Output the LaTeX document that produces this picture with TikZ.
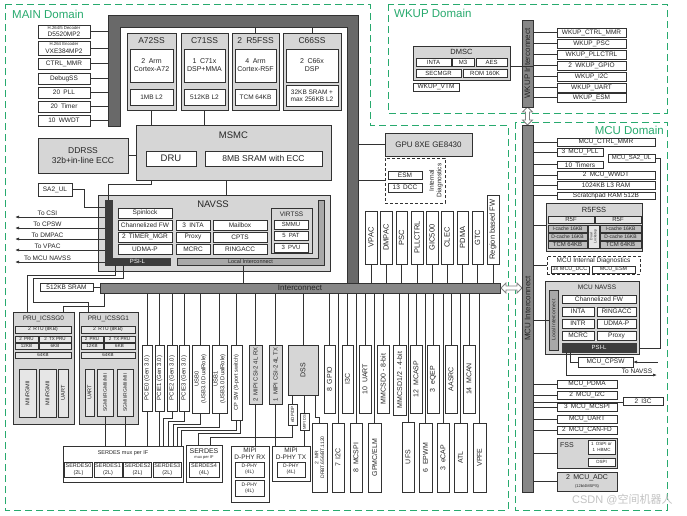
\documentclass[tikz,border=0pt]{standalone}
\usepackage{fontspec}
\setmainfont{Liberation Sans}
\newfontfamily\cjkfont{Noto Sans CJK SC}
\usetikzlibrary{arrows.meta}
\newcommand\fs[1]{\fontsize{#1}{\fpeval{#1*1.15}}\selectfont}
\definecolor{grn}{RGB}{40,170,110}
\definecolor{bd}{RGB}{50,50,50}
\definecolor{lg}{RGB}{214,214,214}
\definecolor{lg2}{RGB}{230,230,230}
\definecolor{fr}{RGB}{105,105,105}
\definecolor{icg}{RGB}{135,135,135}
\definecolor{psig}{RGB}{60,60,60}
\definecolor{licg}{RGB}{168,168,168}
\definecolor{cach}{RGB}{190,190,190}
\definecolor{wm}{RGB}{195,195,195}
\tikzset{
 bx/.style={draw=bd, fill=white, line width=0.7pt, inner sep=0pt, outer sep=0pt, align=center, font=\fs{6.5}, text=black!85},
 gbx/.style={bx, fill=lg},
 lbx/.style={bx, fill=lg2},
 cbx/.style={bx, fill=cach},
 ibar/.style={bx, fill=icg},
 dbox/.style={bx, fill=none, dash pattern=on 3pt off 2pt, line width=0.8pt},
 ln/.style={draw=bd, line width=0.7pt},
 dom/.style={draw=grn, line width=0.9pt, dash pattern=on 7pt off 4pt},
 dlab/.style={text=grn, font=\fs{11.5}, inner sep=0pt, anchor=west},
 ttl/.style={inner sep=0pt, font=\fs{8.5}, text=black!85, align=center},
 harr/.style={fill=white, draw=gray, line width=0.8pt},
 arrowend/.style={-{Latex[length=4pt,width=3pt]}},
 arrowstart/.style={{Latex[length=4pt,width=3pt]}-},
}
\newcommand\B[7][]{\node[bx,minimum width={(#5)-(#3)},minimum height={(#6)-(#4)},#1] (#2) at ({((#3)+(#5))/2},{((#4)+(#6))/2}) {#7};}
\newcommand\V[7][]{\node[bx,rotate=90,minimum width={(#6)-(#4)},minimum height={(#5)-(#3)},#1] (#2) at ({((#3)+(#5))/2},{((#4)+(#6))/2}) {#7};}
\begin{document}
\begin{tikzpicture}[x=1pt,y=-1pt]
\useasboundingbox (0,0) rectangle (687,515);
\fill[white] (0,0) rectangle (687,515);
% ---------------- domains
\draw[dom] (5,4) -- (370,4) -- (370,125) -- (508,125) -- (508,510) -- (5,510) -- cycle;
\draw[dom] (388,4) rectangle (667,113);
\draw[dom] (515,122) rectangle (667,510);
\node[dlab] (lmain) at (12,14) {MAIN Domain};
\node[dlab] (lwkup) at (394,13) {WKUP Domain};
\node[dlab,anchor=east] (lmcu) at (664,130) {MCU Domain};
% ---------------- main frame
\filldraw[fill=fr, draw=bd, line width=0.7pt] (108,15) -- (358,15) -- (358,283) -- (347,283) -- (347,27) -- (120,27) -- (120,126) -- (108,126) -- cycle;
\coordinate (lband) at (108,0);
\coordinate (rband) at (358,0);
\coordinate (tband) at (0,27);
% left column
\B{h265}{38}{25}{90}{38}{\fs{4.3}H.264/5 Decoder\\D5520MP2}
\B{h264}{38}{41}{90}{55}{\fs{4.3}H.264 Encoder\\VXE384MP2}
\B{ctrl}{38}{58}{90}{69}{CTRL\_MMR}
\B{dbg}{38}{73}{90}{84}{DebugSS}
\B{pll}{38}{87}{90}{98}{20\enspace PLL}
\B{tmr}{38}{101}{90}{112}{20\enspace Timer}
\B{wwdt}{38}{115}{90}{126}{10\enspace WWDT}
\foreach \n in {h265,h264,ctrl,dbg,pll,tmr,wwdt} \draw[ln] (\n.east) -- (\n.east -| lband);
% subsystems
\B[gbx]{a72}{127}{33}{176}{110}{}
\node[ttl] (a72t) at (151.5,41) {A72SS};
\B[font=\fs{7}]{a72c}{130}{49}{173}{82}{2\enspace Arm\\Cortex-A72}
\B{a72l}{130}{89}{173}{105}{1MB L2}
\B[gbx]{c71}{181}{33}{228}{110}{}
\node[ttl] (c71t) at (204.5,41) {C71SS};
\B[font=\fs{7}]{c71c}{184}{49}{225}{82}{1\enspace C71x\\DSP+MMA}
\B{c71l}{184}{89}{225}{105}{512KB L2}
\B[gbx]{r5}{232}{33}{279}{110}{}
\node[ttl] (r5t) at (255.5,41) {2\enspace R5FSS};
\B[font=\fs{7}]{r5c}{235}{49}{276}{82}{4\enspace Arm\\Cortex-R5F}
\B{r5l}{235}{89}{276}{105}{TCM 64KB}
\B[gbx]{c66}{283}{33}{341}{110}{}
\node[ttl] (c66t) at (312,41) {C66SS};
\B[font=\fs{7}]{c66c}{286}{49}{338}{82}{2\enspace C66x\\DSP}
\B{c66l}{286}{85}{338}{106}{32KB SRAM +\\max 256KB L2}
\draw[ln] (r5.north) -- (r5.north |- tband);
\draw[ln] (c66.north) -- (c66.north |- tband);
% MSMC
\B[gbx]{msmc}{136}{125}{331}{180}{}
\node[ttl,font=\fs{9.5}] (msmct) at (233.5,135) {MSMC};
\B[font=\fs{9.5}]{dru}{146}{151}{196}{166}{DRU}
\B[font=\fs{8.5}]{sram8}{205}{151}{322}{166}{8MB SRAM with ECC}
\draw[ln] (a72.south) -- (a72.south |- msmc.north);
\draw[ln] (c71.south) -- (c71.south |- msmc.north);
\B[gbx,font=\fs{8.5}]{ddr}{38}{138}{128}{173}{DDRSS\\32b+in-line ECC}
\draw[ln] (ddr.east) -- (ddr.east -| msmc.west);
% GPU and diagnostics
\B[gbx,font=\fs{8}]{gpu}{385}{133}{472}{156}{GPU 8XE GE8430}
\B[dbox]{idiag}{385}{158}{445}{203}{}
\B{esm}{388}{171}{422}{179}{ESM}
\B{dcc}{388}{183}{422}{192}{13\enspace DCC}
\node[ttl,font=\fs{6.5},rotate=90] (idt) at (436,180.5) {Internal\\Diagnostics};
\draw[ln] (gpu.west) -- (gpu.west -| rband);
\draw[ln] (idiag.west) -- (idiag.west -| rband);
% NAVSS
\B[gbx]{navss}{98}{195}{330}{271}{}
\node[ttl,font=\fs{9.5}] (navt) at (213,204) {NAVSS};
\filldraw[fill=psig, draw=psig] (105,200) -- (112,200) -- (112,258) -- (170,258) -- (170,265) -- (105,265) -- cycle;
\B[draw=none,fill=none]{psiv}{105}{200}{112}{265}{}
\B[draw=none,fill=none,text=white,font=\fs{6}]{psil}{105}{258}{170}{265}{PSI-L}
\filldraw[fill=licg, draw=bd, line width=0.7pt] (177,258) -- (318,258) -- (318,200) -- (324,200) -- (324,265) -- (177,265) -- cycle;
\B[draw=none,fill=none,font=\fs{5.5}]{lic}{177}{258}{324}{265}{Local Interconnect}
\B{spin}{118}{208}{172}{218}{Spinlock}
\B{chfw}{118}{220}{172}{230}{Channelized FW}
\B{tmgr}{118}{232}{172}{242}{2\enspace TIMER\_MGR}
\B{udma}{118}{244}{172}{254}{UDMA-P}
\B{inta}{176}{220}{210}{230}{3\enspace INTA}
\B{proxy}{176}{232}{210}{242}{Proxy}
\B{mcrc}{176}{244}{210}{254}{MCRC}
\B{mbox}{213}{220}{267}{230}{Mailbox}
\B{cpts}{213}{232}{267}{242}{CPTS}
\B{ring}{213}{244}{267}{254}{RINGACC}
\B[gbx]{virt}{271}{208}{312}{253}{}
\node[ttl,font=\fs{6.5}] (virtt) at (291.5,214) {VIRTSS};
\B[font=\fs{6}]{smmu}{274}{220}{308}{229}{SMMU}
\B[font=\fs{6}]{pat}{274}{231}{308}{240}{5\enspace PAT}
\B[font=\fs{6}]{pvu}{274}{243}{308}{252}{3\enspace PVU}
\B{sa2}{38}{183}{72}{196}{SA2\_UL}
\coordinate (sa2k) at (84,207);
\draw[ln] (sa2.east) -| (sa2k) -- (sa2k -| psiv.west);
\draw[ln] (a72.south |- msmc.south) -- ++(0,4) -| (psiv.north);
\draw[ln] ([xshift=-7.5pt]msmc.south) -- ([xshift=-7.5pt]msmc.south |- navss.north);
\foreach \nm/\yy/\tx in {csi/217/To CSI, cpsw/228/To CPSW, dmpac/239/To DMPAC, vpac/250/To VPAC, mnav/262/To MCU NAVSS} {
 \coordinate (to\nm) at (15,\yy);
 \draw[ln,arrowend] (psiv.west |- to\nm) -- (to\nm);
 \node[ttl,font=\fs{6.5},anchor=south] (lt\nm) at (47.5,\yy-1.2) {\tx};
}
% interconnect
\B[ibar,font=\fs{8}]{ic}{100}{283}{500}{293}{Interconnect}
\B{sram}{40}{283}{93}{291}{512KB SRAM}
\draw[ln] (sram.east) -- (sram.east -| ic.west);
\draw[ln] ([xshift=-7pt]lic.south) -- ([xshift=-7pt]lic.south |- ic.north);
% region column
\V[font=\fs{7.5}]{vpac}{365}{211}{377}{264}{VPAC}
\V[font=\fs{7.5}]{dmpac}{380}{211}{392}{264}{DMPAC}
\V[font=\fs{7.5}]{psc}{396}{211}{407}{264}{PSC}
\V[font=\fs{7.5}]{pllc}{411}{211}{423}{264}{PLLCTRL}
\V[font=\fs{7.5}]{gic}{426}{211}{438}{264}{GIC500}
\V[font=\fs{7.5}]{clec}{441}{211}{453}{264}{CLEC}
\V[font=\fs{7.5}]{pdma}{457}{211}{468}{264}{PDMA}
\V[font=\fs{7.5}]{gtc}{472}{211}{483}{264}{GTC}
\V[font=\fs{7.5}]{rfw}{487}{195}{499}{264}{Region based FW}
\foreach \n in {vpac,dmpac,psc,pllc,gic,clec,pdma,gtc,rfw} \draw[ln] (\n) -- (\n |- ic.north);
% PRU
\B[gbx]{pru0}{13}{312}{74}{424}{}
\node[ttl,font=\fs{6.5}] (pru0t) at (43.5,319) {PRU\_ICSSG0};
\B[lbx,font=\fs{5}]{rtu0}{15}{326}{71}{333}{2\enspace RTU (8KB)}
\B[lbx,font=\fs{4.5}]{pp0}{15}{336}{38}{342}{2\enspace PRU}
\B[lbx,font=\fs{4.5}]{tp0}{39}{336}{71}{342}{2\enspace TX PRU}
\B[lbx,font=\fs{4.5}]{ka0}{15}{343}{38}{349}{12KB}
\B[lbx,font=\fs{4.5}]{kb0}{39}{343}{71}{349}{6KB}
\B[lbx,font=\fs{4.5}]{kc0}{15}{352}{71}{358}{64KB}
\V[lbx,font=\fs{5.5}]{mii0a}{19}{369}{36}{417}{MII/RGMII}
\V[lbx,font=\fs{5.5}]{mii0b}{39}{369}{56}{417}{MII/RGMII}
\V[lbx,font=\fs{5.5}]{uart0}{58}{369}{68}{417}{UART}
\B[gbx]{pru1}{79}{312}{138}{424}{}
\node[ttl,font=\fs{6.5}] (pru1t) at (108.5,319) {PRU\_ICSSG1};
\B[lbx,font=\fs{5}]{rtu1}{81}{326}{135}{333}{2\enspace RTU (8KB)}
\B[lbx,font=\fs{4.5}]{pp1}{81}{336}{103}{342}{2\enspace PRU}
\B[lbx,font=\fs{4.5}]{tp1}{104}{336}{135}{342}{2\enspace TX PRU}
\B[lbx,font=\fs{4.5}]{ka1}{81}{343}{103}{349}{12KB}
\B[lbx,font=\fs{4.5}]{kb1}{104}{343}{135}{349}{6KB}
\B[lbx,font=\fs{4.5}]{kc1}{81}{352}{135}{358}{64KB}
\V[lbx,font=\fs{5.5}]{uart1}{85}{369}{94}{416}{UART}
\V[lbx,font=\fs{5}]{sg1}{97}{369}{113}{416}{SGMII/RGMII/MII}
\V[lbx,font=\fs{5}]{sg2}{117}{369}{133}{416}{SGMII/RGMII/MII}
\coordinate (elb2) at (33,302);
\draw[ln] ([xshift=-22.5pt]psil.south) -- ++(0,10) -| ([xshift=-16.5pt]pru0.north);
\draw[ln] ([xshift=-14.5pt]psil.south) -- ++(0,13) -| (elb2) -| ([xshift=-20.5pt]pru1.north);
\draw[ln] ([xshift=-196pt]ic.south) -- ++(0,13) -| ([xshift=19.5pt]pru0.north);
% bottom row
\V[font=\fs{6}]{pcie0}{142}{345}{152}{411}{PCIE0 (Gen 3.0)}
\V[font=\fs{6}]{pcie1}{155}{345}{164}{411}{PCIE1 (Gen 3.0)}
\V[font=\fs{6}]{pcie2}{167}{345}{177}{411}{PCIE2 (Gen 3.0)}
\V[font=\fs{6}]{pcie3}{179}{345}{189}{411}{PCIE3 (Gen 3.0)}
\V[font=\fs{5.8}]{usb0}{192}{345}{209}{413}{USB0\\(USB3.0 DualRole)}
\V[font=\fs{5.8}]{usb1}{212}{345}{227}{413}{USB1\\(USB3.0 DualRole)}
\V[font=\fs{5.6}]{cpsw}{231}{345}{242}{420}{CP SW (9-port switch)}
\V[gbx,font=\fs{6}]{csirx}{249}{345}{262}{404}{2\enspace MIPI CSI-2 4L RX}
\V[gbx,font=\fs{6}]{csitx}{269}{345}{282}{404}{1\enspace MIPI CSI-2 4L TX}
\V[gbx,font=\fs{7}]{dss}{288}{345}{318}{395}{DSS}
\V[font=\fs{4.5}]{edp}{288}{404}{297}{425}{eDP/DP}
\V[font=\fs{4}]{dsi}{300}{413}{309}{430}{MIPI DSI}
\V[font=\fs{5}]{mr}{312}{423}{327}{492}{2\enspace MR\\DRBT.656/BT.1120}
\V[font=\fs{7}]{gpio}{324}{345}{335}{413}{8\enspace GPIO}
\V[font=\fs{7}]{i3c}{342}{345}{353}{413}{I3C}
\V[font=\fs{7}]{uart}{359}{345}{371}{413}{10\enspace UART}
\V[font=\fs{7}]{mmc0}{377}{345}{389}{413}{MMCSD0 - 8-bit}
\V[font=\fs{7}]{mmc1}{393}{345}{406}{415}{MMCSD1/2 - 4-bit}
\V[font=\fs{7}]{mcasp}{410}{345}{422}{413}{12\enspace MCASP}
\V[font=\fs{7}]{eqep}{427}{345}{439}{413}{3\enspace eQEP}
\V[font=\fs{7}]{aasrc}{445}{345}{457}{413}{AASRC}
\V[font=\fs{7}]{mcan}{463}{345}{475}{413}{14\enspace MCAN}
\V[font=\fs{7}]{i2c}{332}{423}{344}{492}{7\enspace I2C}
\V[font=\fs{7}]{mcspi}{350}{423}{362}{492}{8\enspace MCSPI}
\V[font=\fs{7}]{gpmc}{368}{423}{381}{492}{GPMC/ELM}
\V[font=\fs{7}]{ufs}{402}{422}{414}{492}{UFS}
\V[font=\fs{7}]{epwm}{419}{423}{432}{492}{6\enspace EPWM}
\V[font=\fs{7}]{ecap}{437}{423}{449}{492}{3\enspace eCAP}
\V[font=\fs{7}]{atl}{454}{423}{467}{492}{ATL}
\V[font=\fs{7}]{vpfe}{473}{423}{486}{492}{VPFE}
\foreach \n in {pcie0,pcie1,pcie2,pcie3,usb0,usb1,cpsw,csirx,csitx,dss,gpio,i3c,uart,mmc0,mmc1,mcasp,eqep,aasrc,mcan,i2c,mcspi,gpmc,ufs,epwm,ecap,atl,vpfe} \draw[ln] (\n) -- (\n |- ic.south);
% SERDES
\B{serdes}{63}{446}{183}{482}{}
\node[ttl,font=\fs{5.5}] (sert) at (123,453.5) {SERDES mux per IF};
\B[font=\fs{5.5}]{s0}{64.5}{462}{92.5}{477}{SERDES0\\(2L)}
\B[font=\fs{5.5}]{s1}{94}{462}{122}{477}{SERDES1\\(2L)}
\B[font=\fs{5.5}]{s2}{123.5}{462}{151.5}{477}{SERDES2\\(2L)}
\B[font=\fs{5.5}]{s3}{153}{462}{181.5}{477}{SERDES3\\(2L)}
\B{serdes4}{186}{445}{222}{482}{}
\node[ttl,font=\fs{7}] (ser4t) at (204,451) {SERDES};
\node[ttl,font=\fs{4}] (ser4m) at (204,457.5) {mux per IF};
\B[font=\fs{5.5}]{s4}{189}{462}{219}{477}{SERDES4\\(4L)}
\draw[ln] (pcie0) -- (pcie0 |- serdes.north);
\draw[ln] (pcie1) -- (pcie1 |- serdes.north);
\draw[ln] (pcie2.west) -- ++(0,7) -| ([xshift=40pt]serdes.north);
\draw[ln] (pcie3.west) -- ++(0,10) -| ([xshift=45pt]serdes.north);
\draw[ln] (usb0.west) -- ++(0,11) -| ([xshift=50pt]serdes.north);
\draw[ln] (usb1.west) -- ++(0,14) -| ([xshift=54pt]serdes.north);
\draw[ln] (cpsw.west) -- ++(0,10) -| ([xshift=58pt]serdes.north);
\draw[ln] ([xshift=3.5pt]cpsw.west) -- ++(0,13) -| ([xshift=-6pt]serdes4.north);
\draw[ln] (edp.west) -- ++(0,12) -| ([xshift=6pt]serdes4.north);
\draw[ln] (sg1) -- (sg1 |- serdes.north);
\draw[ln] (sg2) -- (sg2 |- serdes.north);
% MIPI D-PHY
\B{dphyrx}{231}{446}{269}{502}{}
\node[ttl,font=\fs{6.5}] (drxt) at (250,454) {MIPI\\D-PHY RX};
\B[font=\fs{5}]{drx1}{235}{462}{264}{477}{D-PHY\\(4L)}
\B[font=\fs{5}]{drx2}{235}{480}{264}{496}{D-PHY\\(4L)}
\B{dphytx}{272}{446}{310}{481}{}
\node[ttl,font=\fs{6.5}] (dtxt) at (291,454) {MIPI\\D-PHY TX};
\B[font=\fs{5}]{dtx1}{277}{462}{305}{477}{D-PHY\\(4L)}
\draw[ln] (csirx) -- (csirx |- dphyrx.north);
\draw[ln] (csitx) -- (csitx |- dphytx.north);
\draw[ln] (dsi) -- (dsi |- dphytx.north);
\draw[ln] ([xshift=-10.5pt]dss.west) -- (edp.east);
\draw[ln] ([xshift=1.5pt]dss.west) -- (dsi.east);
\draw[ln] ([xshift=12pt]dss.west) -- ++(0,22) -| (mr.east);
% double arrows
\filldraw[harr] (501,288) -- (506,283) -- (506,286) -- (517,286) -- (517,283) -- (522,288) -- (517,293) -- (517,290) -- (506,290) -- (506,293) -- cycle;
\filldraw[harr] (527.5,107) -- (522.5,112) -- (525.5,112) -- (525.5,120) -- (522.5,120) -- (527.5,125) -- (532.5,120) -- (529.5,120) -- (529.5,112) -- (532.5,112) -- cycle;
% ---------------- WKUP
\V[ibar,font=\fs{8}]{wic}{522}{20}{533}{107}{WKUP Interconnect}
\B[gbx]{dmsc}{413}{46}{510}{80}{}
\node[ttl,font=\fs{7.5}] (dmsct) at (461.5,52) {DMSC};
\B[font=\fs{6}]{dinta}{416}{58}{451}{66}{INTA}
\B[font=\fs{6}]{dm3}{452}{58}{474}{66}{M3}
\B[font=\fs{6}]{daes}{476}{58}{507}{66}{AES}
\B[font=\fs{6}]{dsec}{416}{69}{461}{77}{SECMGR}
\B[font=\fs{6}]{drom}{463}{69}{507}{77}{ROM 160K}
\B{vtm}{413}{83}{459}{91}{WKUP\_VTM}
\draw[ln] ([yshift=-3pt]dmsc.east) -- ([yshift=-3pt]dmsc.east -| wic.south);
\B{wctrl}{557}{28}{626}{37}{WKUP\_CTRL\_MMR}
\B{wpsc}{557}{39}{626}{48}{WKUP\_PSC}
\B{wpll}{557}{50}{626}{59}{WKUP\_PLLCTRL}
\B{wgpio}{557}{61}{626}{70}{2\enspace WKUP\_GPIO}
\B{wi2c}{557}{72}{626}{81}{WKUP\_I2C}
\B{wuart}{557}{83}{626}{92}{WKUP\_UART}
\B{wesm}{557}{93.5}{626}{102}{WKUP\_ESM}
\foreach \n in {wctrl,wpsc,wpll,wgpio,wi2c,wuart,wesm} \draw[ln] (\n.west) -- (\n.west -| wic.south);
% ---------------- MCU
\V[ibar,font=\fs{8}]{mic}{522}{125}{533}{492}{MCU Interconnect}
\B{mctrl}{557}{138}{655}{146}{MCU\_CTRL\_MMR}
\B{mpll}{557}{148}{603}{156}{3\enspace MCU\_PLL}
\B[font=\fs{6}]{msa2}{608}{154}{655}{162}{MCU\_SA2\_UL}
\B{mtim}{557}{161}{603}{168.5}{10\enspace Timers}
\B{mwdt}{557}{171}{655}{179}{2\enspace MCU\_WWDT}
\B{ml3}{557}{181}{655}{189}{1024KB L3 RAM}
\B{mscr}{557}{192}{655}{199}{Scratchpad RAM 512B}
\foreach \n in {mctrl,mpll,mtim,mwdt,ml3,mscr} \draw[ln] (\n.west) -- (\n.west -| mic.south);
\B[gbx]{mr5}{546}{203}{642}{251}{}
\node[ttl,font=\fs{7.5}] (mr5t) at (594,209.5) {R5FSS};
\B[lbx,font=\fs{6}]{r5fa}{548}{216}{594}{223}{R5F}
\B[lbx,font=\fs{6}]{r5fb}{595}{216}{641}{223}{R5F}
\B[cbx,font=\fs{5}]{ica}{548}{225}{587}{232}{I-cache 16KB}
\B[cbx,font=\fs{5}]{dca}{548}{233}{587}{240}{D-cache 16KB}
\B[cbx,font=\fs{6}]{tca}{548}{241}{587}{248}{TCM 64KB}
\V[lbx,font=\fs{3.5}]{lock}{588}{225}{599}{248}{Dual\\Lockstep}
\B[cbx,font=\fs{5}]{icb}{600}{225}{641}{232}{I-cache 16KB}
\B[cbx,font=\fs{5}]{dcb}{600}{233}{641}{240}{D-cache 16KB}
\B[cbx,font=\fs{6}]{tcb}{600}{241}{641}{248}{TCM 64KB}
\draw[ln] ([yshift=2pt]mr5.west) -- ([yshift=2pt]mr5.west -| mic.south);
\B[dbox]{mdiag}{547}{256}{640}{274}{}
\node[ttl,font=\fs{6.5}] (mdiagt) at (593.5,261) {MCU Internal Diagnostics};
\B[font=\fs{5.5}]{mdcc}{551}{266}{589}{273}{3x MCU\_DCC}
\B[font=\fs{5.5}]{mesm}{592}{266}{635}{273}{MCU\_ESM}
\draw[ln] (mdiag.west) -- (mdiag.west -| mic.south);
\B[gbx]{mnav}{545}{281}{639}{354}{}
\node[ttl,font=\fs{6.5}] (mnavt) at (597,287) {MCU NAVSS};
\V[bx,fill=licg,font=\fs{5}]{mlic}{549}{290}{558}{350}{Local Interconnect}
\B{mchfw}{562}{295}{636}{303}{Channelized FW}
\B{minta}{562}{307}{594}{316}{INTA}
\B{mring}{597}{307}{636}{316}{RINGACC}
\B{mintr}{562}{319}{594}{328}{INTR}
\B{mudma}{597}{319}{636}{328}{UDMA-P}
\B{mmcrc}{562}{331}{594}{340}{MCRC}
\B{mproxy}{597}{331}{636}{340}{Proxy}
\B[fill=psig,draw=psig,text=white,font=\fs{6}]{mpsil}{562}{343}{636}{352}{PSI-L}
\draw[ln] (mlic.north) -- (mlic.north -| mic.south);
\draw[ln] (msa2.east) -- ++(5,0) |- ([yshift=-30.5pt]mnav.east);
\B{mcpsw}{578}{357}{633}{367}{MCU\_CPSW}
\coordinate (cpswin) at (658,362);
\coordinate (tonav) at (657,375);
\draw[ln] ([xshift=-29pt]mpsil.south) |- (mcpsw.west);
\draw[ln,arrowstart] (mcpsw.east) -- (cpswin);
\draw[ln,arrowend] ([xshift=-33pt]mpsil.south) |- (tonav);
\node[ttl,font=\fs{6.5},anchor=south] (tonavt) at (637,373.8) {To NAVSS};
\B{mpdma}{557}{380}{617}{388}{MCU\_PDMA}
\B{mi2c}{557}{391.5}{617}{399}{2\enspace MCU\_I2C}
\B{mspi}{557}{403}{617}{411}{3\enspace MCU\_MCSPI}
\B{muart}{557}{415}{617}{423}{MCU\_UART}
\B{mcan2}{557}{426}{617}{434}{2\enspace MCU\_CAN-FD}
\B[gbx]{fss}{557}{438}{617}{468}{}
\node[ttl,font=\fs{7},anchor=west] (fsst) at (560,445) {FSS};
\B[font=\fs{4.5}]{ospi1}{588}{440}{615}{454}{1\enspace OSPI or\\1\enspace HBMC}
\B[font=\fs{4.5}]{ospi2}{588}{458}{615}{466}{OSPI}
\B[gbx,font=\fs{7}]{adc}{557}{472}{617}{491}{2\enspace MCU\_ADC\\{\fs{4}(12b/4MSPS)}}
\B{mi3c}{623}{397}{663}{405}{2\enspace I3C}
\foreach \n in {mpdma,mi2c,mspi,muart,mcan2,fss,adc} \draw[ln] (\n.west) -- (\n.west -| mic.south);
\draw[ln] ([yshift=-1pt]mi3c.west) -- ([yshift=-1pt]mi3c.west -| mic.south);
% watermark
\node[inner sep=0pt, text=wm, font=\fs{11}, anchor=west] (wmk) at (572,500) {CSDN @{\cjkfont 空间机器人}};
\end{tikzpicture}
\end{document}
